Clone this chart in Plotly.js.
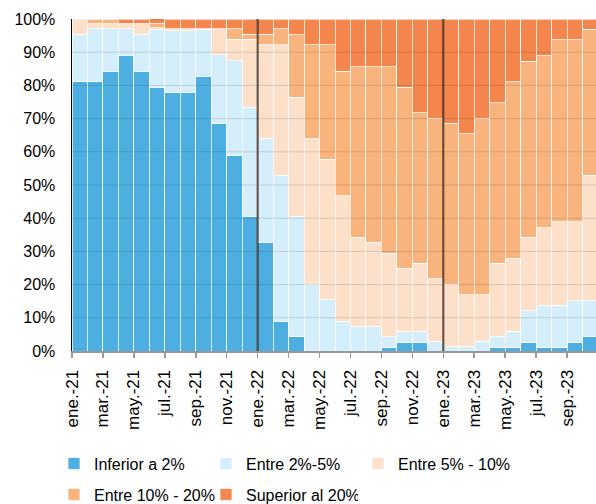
<!DOCTYPE html>
<html>
<head>
<meta charset="utf-8">
<script src="https://cdn.plot.ly/plotly-3.0.1.min.js"></script>
<style>html,body{margin:0;padding:0;background:#fff;}#chart{width:596px;height:504px;}</style>
</head>
<body>
<div id="chart"></div>
<script>
const months = ["ene.-21","feb.-21","mar.-21","abr.-21","may.-21","jun.-21","jul.-21","ago.-21","sep.-21","oct.-21","nov.-21","dic.-21",
  "ene.-22","feb.-22","mar.-22","abr.-22","may.-22","jun.-22","jul.-22","ago.-22","sep.-22","oct.-22","nov.-22","dic.-22",
  "ene.-23","feb.-23","mar.-23","abr.-23","may.-23","jun.-23","jul.-23","ago.-23","sep.-23","oct.-23"];

const inferior2 = [81.1,81.1,84.1,89.0,84.1,79.3,77.8,77.8,82.6,68.5,59.0,40.4,
  32.6,9.0,4.3,0,0,0,0,0,1.1,2.7,2.7,0,
  0,0,0,1.2,1.2,2.7,1.2,1.2,2.7,4.3];
const entre2a5 = [14.3,15.9,12.9,8.0,11.3,17.4,18.7,18.7,14.1,20.7,28.4,33.0,
  31.3,44.0,36.1,20.1,15.4,9.0,7.5,7.5,3.2,3.1,3.1,2.8,
  1.3,1.3,2.9,3.2,4.7,9.4,12.6,12.6,12.5,10.9];
const entre5a10 = [4.6,1.5,1.5,1.5,3.1,0.6,0.5,0.5,0.3,7.8,6.5,20.5,
  28.3,39.2,36.0,43.8,42.3,37.8,26.8,25.2,25.2,19.1,20.6,18.9,
  18.8,15.6,14.0,22.0,22.0,22.1,23.4,25.1,23.7,37.8];
const entre10a20 = [0,1.5,1.5,0,0,1.3,0,0,0,0,3.1,1.5,
  3.2,4.8,18.8,28.3,34.5,37.5,51.3,52.9,56.1,54.6,45.3,48.4,
  48.5,48.6,53.2,48.4,53.2,53.1,51.8,54.8,54.8,43.9];
const superior20 = [0,0,0,1.5,1.5,1.5,3.0,3.0,3.0,3.0,3.0,4.6,
  4.6,3.0,4.8,7.8,7.8,15.7,14.4,14.4,14.4,20.5,28.3,29.9,
  31.4,34.5,29.9,25.2,18.9,12.7,11.0,6.3,6.3,3.1];

const seriesNames = ["Inferior a 2%","Entre 2%-5%","Entre 5% - 10%","Entre 10% - 20%","Superior al 20%"];
const seriesColors = ["#4DAFE1","#D5EEFB","#FCE0C9","#F8B47C","#F4854C"];
const seriesValues = [inferior2, entre2a5, entre5a10, entre10a20, superior20];
const seriesLegend = ["legend","legend","legend","legend2","legend2"];
const yTicks = [0,10,20,30,40,50,60,70,80,90,100];

const xIdx = months.map((m,i)=>i);
const traces = seriesValues.map((vals,k)=>({
  type:'bar', x:xIdx, y:vals, name:seriesNames[k], width:1, legend:seriesLegend[k],
  marker:{color:seriesColors[k], line:{color:'rgba(255,255,255,0.75)', width:1}},
  hoverinfo:'name+y'
}));

const tickIdx = xIdx.filter(i=>i%2===0);
const shapes = [];
yTicks.filter(v=>v>0).forEach(v=>{
  shapes.push({type:'line', xref:'paper', yref:'y', x0:0, x1:1, y0:v, y1:v,
    line:{color:'rgba(0,0,0,0.13)', width:1}, layer:'above'});
});
months.forEach((m,i)=>{
  if(i>0 && m.startsWith('ene.')){
    shapes.push({type:'line', xref:'x', yref:'paper', x0:i-0.5, x1:i-0.5, y0:0, y1:1,
      line:{color:'rgba(40,20,10,0.75)', width:2}, layer:'above'});
  }
});

const font = {family:'"Liberation Sans", Arial, sans-serif', size:16, color:'#000'};
const xfont = {family:'"Liberation Sans", Arial, sans-serif', size:17, color:'#000'};
const legendBase = {orientation:'h', xanchor:'left', yanchor:'top', xref:'container', yref:'container',
  entrywidth:107, entrywidthmode:'pixels', font:font, bgcolor:'rgba(0,0,0,0)', traceorder:'normal'};
const layout = {
  width:596, height:504,
  margin:{l:72, r:0, t:19, b:153},
  paper_bgcolor:'#fff', plot_bgcolor:'#fff',
  font:font,
  barmode:'stack', bargap:0,
  showlegend:true,
  legend:Object.assign({}, legendBase, {x:54/596, y:0.114}),
  legend2:Object.assign({}, legendBase, {x:54/596, y:0.0526}),
  xaxis:{range:[-0.5,33.37], tickmode:'array', tickvals:tickIdx.map(i=>i-0.5), ticktext:tickIdx.map(i=>months[i]),
    tickangle:-90, ticks:'outside', ticklen:5, tickcolor:'#999', tickwidth:1.5, automargin:false,
    showline:true, linecolor:'#999', linewidth:2, showgrid:false, zeroline:false, ticklabelstandoff:5, tickfont:xfont},
  yaxis:{range:[0,100], tickmode:'array', tickvals:yTicks, ticktext:yTicks.map(v=>v+'%'), automargin:false,
    showline:true, linecolor:'#000', linewidth:1.5, showgrid:false, zeroline:false, ticks:'', ticklabelstandoff:12, tickfont:font},
  shapes:shapes
};
Plotly.newPlot('chart', traces, layout, {displayModeBar:false, staticPlot:true});
</script>
</body>
</html>
